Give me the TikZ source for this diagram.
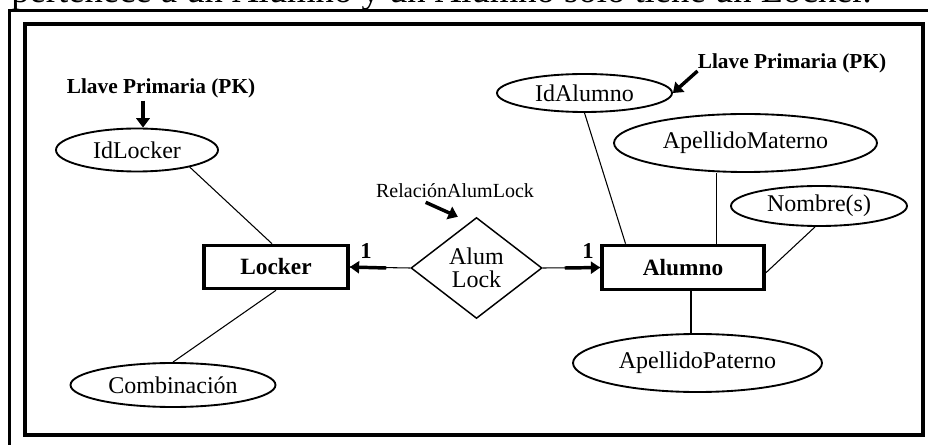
\documentclass[tikz,border=0pt]{standalone}
\usepackage{fontspec}
\setmainfont{Liberation Serif}
\usetikzlibrary{shapes.geometric,arrows.meta}
% coordinates are in pixels, y grows downward
\begin{document}
\begin{tikzpicture}[x=0.75pt,y=-0.75pt,
  attr/.style 2 args={ellipse,draw,line width=1.4pt,inner sep=0pt,
    minimum width=#1*0.75pt,minimum height=#2*0.75pt,
    font=\fontsize{18}{20}\selectfont},
  entity/.style 2 args={rectangle,draw,line width=2.7pt,inner sep=0pt,
    minimum width=#1*0.75pt,minimum height=#2*0.75pt,
    font=\fontsize{17.5}{19}\selectfont\bfseries},
  relation/.style={diamond,draw,line width=1.1pt,inner sep=0pt,aspect=1.3,
    minimum width=131*0.75pt,minimum height=101*0.75pt,align=center,
    font=\fontsize{18}{17.5}\selectfont},
  pklabel/.style={inner sep=0pt,font=\fontsize{16}{18}\selectfont\bfseries},
  card/.style={inner sep=0pt,font=\fontsize{17}{18}\selectfont\bfseries},
  note/.style={inner sep=0pt,font=\fontsize{15}{17}\selectfont},
  link/.style={line width=0.8pt},
  heavy/.style={line width=2.6pt,-{Triangle[length=7pt,width=9pt]}},
  pointer/.style={line width=2.6pt,-{Triangle[length=7pt,width=10pt]}}
]
\useasboundingbox (0,0) rectangle (928,445);
\clip (0,0) rectangle (928,445);

% caption line running above the figure
\node[anchor=base west,inner sep=0pt,font=\fontsize{27.5}{30}\selectfont]
  (caption) at (11,3) {pertenece a un Alumno y un Alumno sólo tiene un Locker.};

% frames
\draw[line width=2.3pt] (9.5,445) -- (9.5,10.5) -- (928,10.5);
\draw[line width=3pt] (25,24) rectangle (923,435);

% entities
\node[entity={144}{43}] (locker) at (276,267) {Locker};
\node[entity={162}{44}] (alumno) at (683,267.5) {Alumno};

% relationship
\node[relation] (rel) at (476.5,268) {Alum\\Lock};

% attributes
\node[attr={162}{43}] (idl) at (137,150) {IdLocker};
\node[attr={205}{44}] (comb) at (173,385) {Combinación};
\node[attr={175}{38}] (ida) at (584.5,93) {IdAlumno};
\node[attr={263}{58}] (apm) at (745.5,143) {ApellidoMaterno};
\node[attr={176}{40}] (nom) at (819,206) {Nombre(s)};
\node[attr={249}{58}] (app) at (697.5,363) {ApellidoPaterno};

% annotations
\node[pklabel] (pkl) at (161,88) {Llave Primaria (PK)};
\node[pklabel] (pkr) at (792,63) {Llave Primaria (PK)};
\node[note] (reln) at (455,191) {RelaciónAlumLock};
\node[card] (c1) at (366,251) {1};
\node[card] (c2) at (588,251) {1};

% attribute links
\draw[link] (idl.-18) -- ([xshift=-3pt]locker.north);
\draw[link] (locker.south) -- (comb.north);
\draw[link] (ida.south) -- ([xshift=19pt]alumno.north west);
\draw[link] ([xshift=-21.75pt]apm.south) -- ([xshift=-21.75pt]apm.south |- alumno.north);
\draw[link] ([xshift=-3pt]nom.south) -- ([yshift=-4pt]alumno.east);
\draw[link] ([xshift=6pt]alumno.south) -- ([xshift=6pt]alumno.south |- app.north);

% relationship links
\draw[link] (rel.west) -- (locker.east);
\draw[heavy] ([xshift=-18pt]rel.west) -- (locker.east);
\draw[link] (rel.east) -- (alumno.west);
\draw[heavy] ([xshift=16.5pt]rel.east) -- (alumno.west);

% annotation pointers
\draw[pointer] ([xshift=-13.5pt,yshift=-2pt]pkl.south) -- ([xshift=-13.5pt]pkl.south |- idl.north);
\draw[pointer] ([yshift=-6pt]pkr.west) -- (ida.east);
\draw[pointer] ([xshift=-22pt,yshift=-3pt]reln.south) -- ([xshift=-14pt]rel.north);
\end{tikzpicture}
\end{document}
